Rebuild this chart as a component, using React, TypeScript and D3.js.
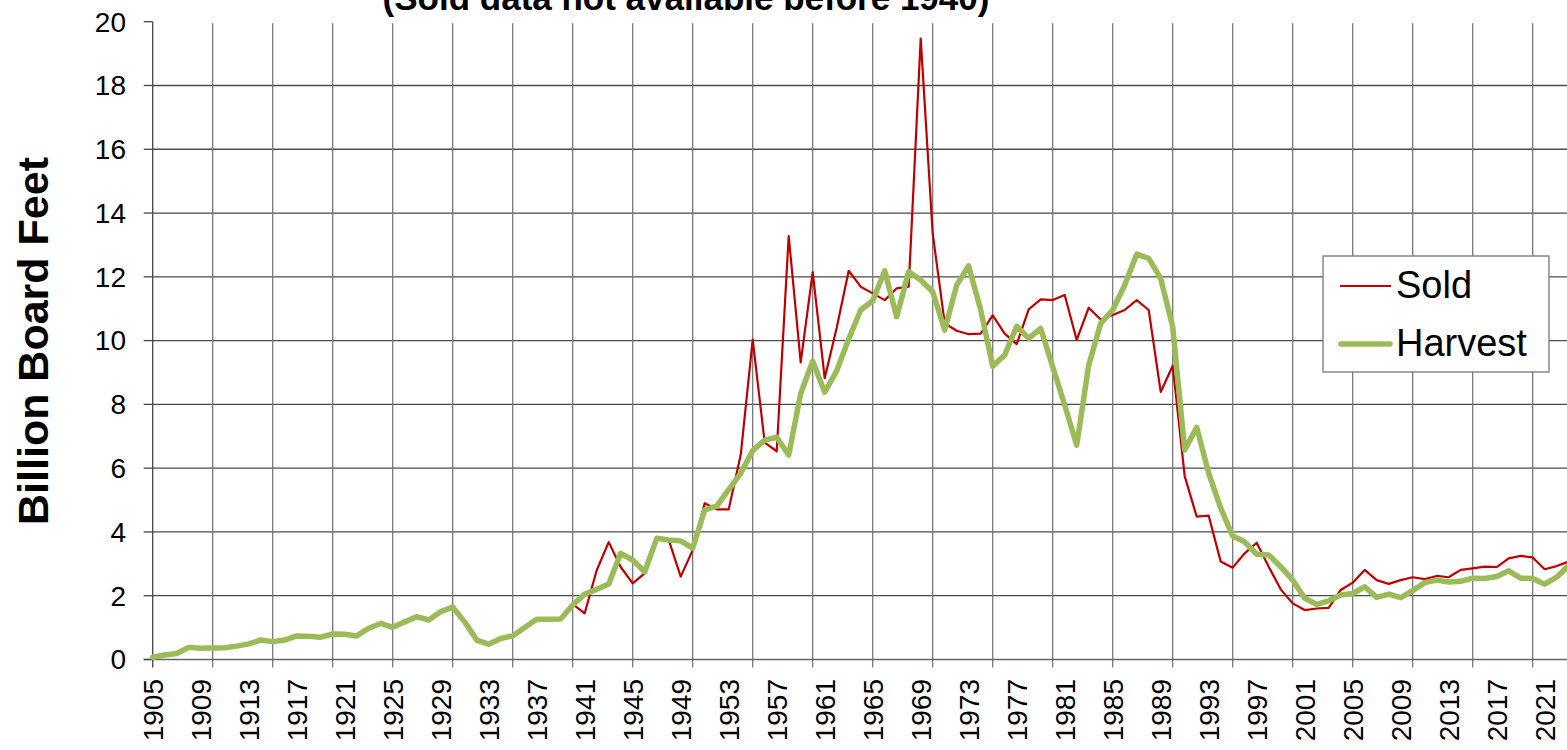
import * as d3 from "d3";

const harvestStart = 1905;
const harvest = [
  0.07, 0.14, 0.19, 0.38, 0.35, 0.36, 0.37, 0.42, 0.49, 0.61,
  0.56, 0.61, 0.74, 0.73, 0.7, 0.8, 0.79, 0.74, 0.98, 1.13,
  1.01, 1.18, 1.34, 1.24, 1.5, 1.64, 1.18, 0.61, 0.48, 0.66,
  0.74, 1.0, 1.26, 1.26, 1.27, 1.71, 2.05, 2.2, 2.37, 3.33,
  3.12, 2.75, 3.8, 3.75, 3.72, 3.49, 4.69, 4.81, 5.33, 5.84,
  6.55, 6.88, 6.97, 6.41, 8.34, 9.35, 8.38, 9.05, 10.05, 10.96,
  11.25, 12.19, 10.75, 12.16, 11.9, 11.53, 10.33, 11.74, 12.34, 10.96,
  9.2, 9.55, 10.45, 10.07, 10.38, 9.18, 7.98, 6.72, 9.23, 10.54,
  10.96, 11.74, 12.71, 12.58, 11.95, 10.43, 6.57, 7.28, 5.84, 4.75,
  3.87, 3.69, 3.3, 3.28, 2.91, 2.49, 1.92, 1.73, 1.84, 2.02,
  2.07, 2.28, 1.95, 2.05, 1.94, 2.16, 2.41, 2.49, 2.43, 2.45,
  2.55, 2.54, 2.6, 2.78, 2.55, 2.54, 2.36, 2.58, 2.95,
];

const soldStart = 1940;
const sold = [
  1.74, 1.45, 2.8, 3.68, 2.9, 2.39, 2.7, 3.8, 3.75, 2.6,
  3.43, 4.9, 4.71, 4.71, 6.41, 10.03, 6.8, 6.53, 13.28, 9.32,
  12.15, 8.82, 10.4, 12.19, 11.69, 11.48, 11.27, 11.64, 11.69, 19.47,
  13.36, 10.54, 10.31, 10.2, 10.22, 10.79, 10.22, 9.89, 10.98, 11.29,
  11.27, 11.43, 10.02, 11.03, 10.66, 10.8, 10.96, 11.27, 10.96, 8.39,
  9.21, 5.75, 4.48, 4.51, 3.07, 2.88, 3.33, 3.66, 2.91, 2.2,
  1.76, 1.55, 1.6, 1.62, 2.18, 2.41, 2.81, 2.49, 2.37, 2.49,
  2.58, 2.52, 2.62, 2.58, 2.81, 2.86, 2.91, 2.9, 3.17, 3.25,
  3.2, 2.83, 2.93, 3.07,
];

const yTicks = [0, 2, 4, 6, 8, 10, 12, 14, 16, 18, 20];
const labelYears = d3.range(1905, 2022, 4);
const gridYears = d3.range(1905, 2021, 5);

const W = 1567;
const H = 750;
const left = 152.7;
const top = 21.7;
const bottom = 659.5;

export default function App() {
  const x = d3.scaleLinear().domain([1905, 2023]).range([left, left + 118 * 12]);
  const y = d3.scaleLinear().domain([0, 20]).range([bottom, top]);

  const harvestPath = d3
    .line<number>()
    .x((_, i) => x(harvestStart + i))
    .y((d) => y(d))(harvest);
  const soldPath = d3
    .line<number>()
    .x((_, i) => x(soldStart + i))
    .y((d) => y(d))(sold);

  const font = "Liberation Sans, Arial, sans-serif";

  return (
    <svg
      width={W}
      height={H}
      style={{ position: "absolute", left: 0, top: 0, background: "#fff" }}
      fontFamily={font}
    >
      <rect width={W} height={H} fill="#fff" />

      {/* horizontal grid */}
      {yTicks
        .filter((t) => t > 0 && t < 20)
        .map((t) => (
          <line key={"h" + t} x1={left} x2={W} y1={y(t)} y2={y(t)} stroke="#4a4a4a" strokeWidth={1.3} />
        ))}
      {/* vertical grid + ticks */}
      {gridYears.map((yr) => (
        <line
          key={"v" + yr}
          x1={x(yr)}
          x2={x(yr)}
          y1={yr === 1905 ? top : top + 1.5}
          y2={bottom + 8}
          stroke={yr === 1905 ? "#444" : "#777"}
          strokeWidth={1.3}
        />
      ))}
      {/* x axis line */}
      <line x1={left - 9} x2={W} y1={bottom} y2={bottom} stroke="#666" strokeWidth={1.3} />
      {/* y ticks */}
      {yTicks.map((t) => (
        <line key={"yt" + t} x1={left - 9} x2={left} y1={y(t)} y2={y(t)} stroke="#444" strokeWidth={1.3} />
      ))}
      {yTicks.map((t) => (
        <text key={"yl" + t} x={126} y={y(t)} dy="0.35em" textAnchor="end" fontSize={28} fill="#000">
          {t}
        </text>
      ))}
      {labelYears.map((yr) => (
        <text
          key={"xl" + yr}
          transform={`translate(${x(yr)},${679}) rotate(-90)`}
          dy="0.35em"
          textAnchor="end"
          fontSize={28}
          fill="#000"
        >
          {yr}
        </text>
      ))}

      <path d={soldPath ?? ""} fill="none" stroke="#C00000" strokeWidth={2.2} strokeLinejoin="round" />
      <path d={harvestPath ?? ""} fill="none" stroke="#9BBB59" strokeWidth={5.5} strokeLinejoin="round" strokeLinecap="round" />

      <text
        transform="translate(48,341) rotate(-90)"
        textAnchor="middle"
        fontSize={43}
        fontWeight="bold"
        fill="#000"
      >
        Billion Board Feet
      </text>
      <text x={686} y={10} textAnchor="middle" fontSize={35} fontWeight="bold" fill="#000">
        (Sold data not available before 1940)
      </text>

      {/* legend */}
      <rect x={1323} y={256} width={226} height={116} fill="#fff" stroke="#777" strokeWidth={1.3} />
      <line x1={1340} x2={1391} y1={286} y2={286} stroke="#C00000" strokeWidth={2.2} />
      <text x={1396} y={298} fontSize={38} fill="#000">Sold</text>
      <line x1={1341} x2={1390} y1={344} y2={344} stroke="#9BBB59" strokeWidth={5.5} strokeLinecap="round" />
      <text x={1396} y={356} fontSize={38} fill="#000">Harvest</text>
    </svg>
  );
}
